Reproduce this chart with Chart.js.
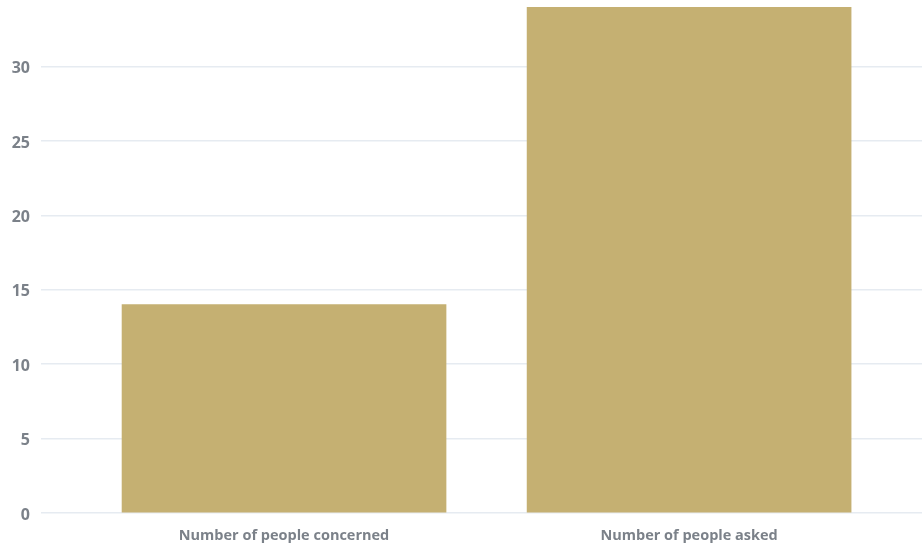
<!DOCTYPE html>
<html>
<head>
<meta charset="utf-8">
<script src="https://cdn.jsdelivr.net/npm/chart.js@4"></script>
<style>
  html, body { margin: 0; padding: 0; background: #fff; }
  #wrap { width: 922px; height: 543px; }
</style>
</head>
<body>
<div id="wrap"><canvas id="barChart"></canvas></div>
<script>
// chart data
const categories = ["Number of people concerned", "Number of people asked"];
const counts = [14, 34];
const yTicks = [0, 5, 10, 15, 20, 25, 30];

const labelColor = "#7b8189";
const gridColor = "#e6ebf1";

const ctx = document.getElementById("barChart").getContext("2d");
const chart = new Chart(ctx, {
  type: "bar",
  data: {
    datasets: [
      {
        data: counts.map((v, i) => ({ x: i, y: v })),
        backgroundColor: "#c5b072",
        borderWidth: 0,
        barThickness: 324,
      },
    ],
  },
  options: {
    responsive: true,
    maintainAspectRatio: false,
    animation: false,
    layout: { padding: { top: 7, right: 0, left: 0, bottom: 0 } },
    plugins: { legend: { display: false }, tooltip: { enabled: false } },
    scales: {
      x: {
        type: "linear",
        min: -0.6,
        max: 1.575,
        offset: false,
        grid: { display: false },
        border: { display: false },
        afterBuildTicks: (scale) => {
          scale.ticks = categories.map((c, i) => ({ value: i }));
        },
        afterFit: (scale) => {
          scale.height = 30;
          scale.paddingLeft = 0;
          scale.paddingRight = 0;
        },
        ticks: {
          padding: 6,
          color: labelColor,
          font: { family: "Open Sans", size: 14.5, weight: "bold" },
          callback: (v) => categories[v],
          maxRotation: 0,
          autoSkip: false,
        },
      },
      y: {
        min: 0,
        max: 34,
        afterFit: (scale) => {
          scale.width = 41;
          scale.paddingTop = 0;
          scale.paddingBottom = 0;
        },
        afterBuildTicks: (scale) => {
          scale.ticks = yTicks.map((v) => ({ value: v }));
        },
        grid: { color: gridColor, lineWidth: 1.5, drawTicks: false },
        border: { display: false },
        ticks: {
          padding: 11,
          labelOffset: 2,
          color: labelColor,
          font: { family: "Open Sans", size: 16, weight: "bold" },
        },
      },
    },
  },
});
</script>
</body>
</html>
